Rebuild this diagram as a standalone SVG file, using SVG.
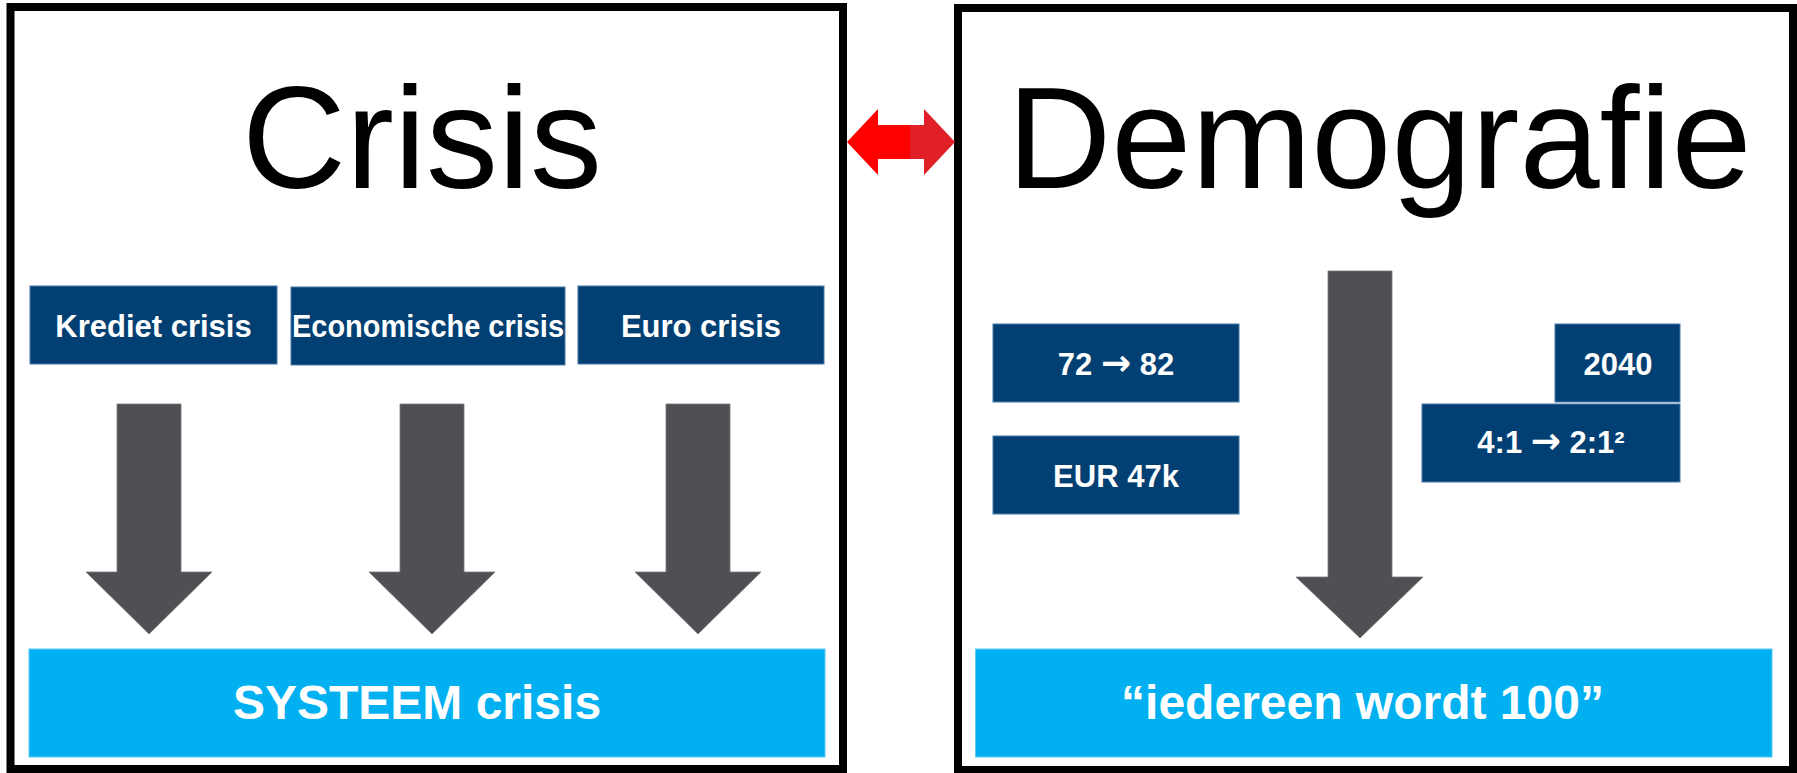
<svg xmlns="http://www.w3.org/2000/svg" width="1797" height="773" viewBox="0 0 1797 773">
<style>
.frame{fill:#ffffff;stroke:#000000;stroke-width:8}
.title{font-family:"Liberation Sans",Arial,sans-serif;font-size:144px;fill:#000000;text-anchor:middle}
.dbox{fill:#023F73;stroke:#4a7aa8;stroke-width:1}
.lbox{fill:#00B0F0;stroke:#5fcaf2;stroke-width:1}
.lbl{font-family:"Liberation Sans",Arial,sans-serif;font-weight:bold;font-size:31px;fill:#ffffff;text-anchor:middle}
.arr{font-family:"DejaVu Sans",sans-serif;font-weight:bold;font-size:36px}
.big{font-family:"Liberation Sans",Arial,sans-serif;font-weight:bold;font-size:48px;fill:#ffffff;text-anchor:middle}
.garrow{fill:#4F5054;stroke:#76777b;stroke-width:0.8}
</style>
<rect width="1797" height="773" fill="#ffffff"/>
<g id="crisis-panel">
<rect class="frame" x="10.5" y="7" width="832.5" height="762"/>
<text class="title" x="422" y="188">Crisis</text>
</g>
<g id="demografie-panel">
<rect class="frame" x="958" y="8" width="835" height="762"/>
<text class="title" x="1379.5" y="188">Demografie</text>
</g>
<g id="krediet">
<rect class="dbox" x="30" y="286" width="247" height="78"/>
<text class="lbl" x="153.5" y="337">Krediet crisis</text>
</g>
<g id="economische">
<rect class="dbox" x="291" y="287" width="274" height="78"/>
<text class="lbl" x="428" y="337" textLength="272" lengthAdjust="spacingAndGlyphs">Economische crisis</text>
</g>
<g id="euro">
<rect class="dbox" x="578" y="286" width="246" height="78"/>
<text class="lbl" x="701" y="337">Euro crisis</text>
</g>
<g id="systeem">
<rect class="lbox" x="29" y="649" width="796" height="108"/>
<text class="big" x="417" y="719">SYSTEEM crisis</text>
</g>
<g id="leeftijd">
<rect class="dbox" x="993" y="324" width="246" height="78"/>
<text class="lbl" x="1116" y="375">72 <tspan class="arr">→</tspan> 82</text>
</g>
<g id="eur47k">
<rect class="dbox" x="993" y="436" width="246" height="78"/>
<text class="lbl" x="1116" y="487">EUR 47k</text>
</g>
<g id="jaar2040">
<rect class="dbox" x="1555" y="324" width="125" height="78"/>
<text class="lbl" x="1618" y="375">2040</text>
</g>
<g id="ratio">
<rect class="dbox" x="1422" y="404" width="258" height="78"/>
<text class="lbl" x="1551" y="453">4:1 <tspan class="arr">→</tspan> 2:1²</text>
</g>
<g id="iedereen">
<rect class="lbox" x="975.5" y="649" width="796.5" height="108"/>
<text class="big" x="1362.5" y="719">“iedereen wordt 100”</text>
</g>
<g id="connectors">
<polygon class="garrow" points="117,404 181,404 181,572 212,572 149,634 86,572 117,572"/>
<polygon class="garrow" points="400,404 464,404 464,572 495,572 432,634 369,572 400,572"/>
<polygon class="garrow" points="666,404 730,404 730,572 761,572 698,634 635,572 666,572"/>
<polygon class="garrow" points="1328,271 1392,271 1392,577 1423,577 1360,638 1296,577 1328,577"/>
<polygon fill="#FF0000" points="847,142 878,109 878,125 911,125 911,159 878,159 878,175"/>
<polygon fill="#E01F26" points="910,125 924,125 924,109 955,142 924,175 924,159 910,159"/>
</g>
</svg>
